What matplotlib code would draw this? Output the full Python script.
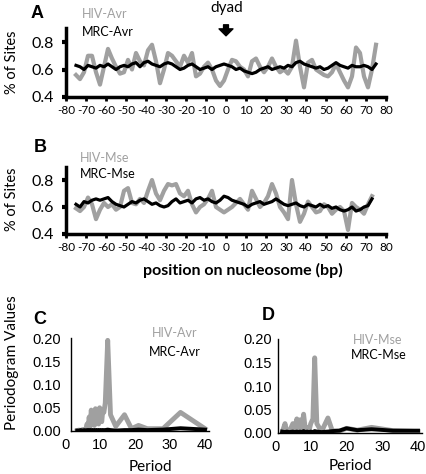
import matplotlib
matplotlib.use('Agg')
import matplotlib.pyplot as plt

# nucleosome position (bp)
pos = list(range(-75, 76, 2))
pos_mse = list(range(-75, 74, 2))

hiv_avr = [0.56, 0.53, 0.58, 0.70, 0.70, 0.58, 0.49, 0.62, 0.75, 0.68,
           0.62, 0.57, 0.58, 0.67, 0.60, 0.72, 0.66, 0.63, 0.74, 0.78,
           0.66, 0.50, 0.60, 0.72, 0.70, 0.66, 0.62, 0.70, 0.65, 0.72,
           0.55, 0.57, 0.62, 0.65, 0.60, 0.52, 0.48, 0.52, 0.60, 0.67,
           0.66, 0.62, 0.60, 0.55, 0.66, 0.68, 0.62, 0.58, 0.62, 0.68,
           0.62, 0.58, 0.60, 0.57, 0.62, 0.81, 0.62, 0.47, 0.65, 0.67,
           0.60, 0.58, 0.56, 0.55, 0.58, 0.64, 0.58, 0.52, 0.47, 0.55,
           0.76, 0.72, 0.55, 0.47, 0.60, 0.78]
mrc_avr = [0.63, 0.62, 0.60, 0.63, 0.62, 0.61, 0.63, 0.62, 0.64, 0.62,
           0.60, 0.62, 0.63, 0.62, 0.64, 0.65, 0.62, 0.65, 0.66, 0.64,
           0.63, 0.62, 0.64, 0.65, 0.64, 0.62, 0.60, 0.61, 0.63, 0.64,
           0.62, 0.60, 0.61, 0.62, 0.60, 0.62, 0.63, 0.64, 0.63, 0.62,
           0.60, 0.61, 0.59, 0.58, 0.57, 0.58, 0.60, 0.61, 0.62, 0.60,
           0.61, 0.62, 0.61, 0.63, 0.62, 0.65, 0.66, 0.64, 0.63, 0.62,
           0.61, 0.62, 0.60, 0.61, 0.63, 0.65, 0.63, 0.62, 0.61, 0.63,
           0.62, 0.62, 0.63, 0.62, 0.60, 0.64]
hiv_mse = [0.59, 0.57, 0.60, 0.67, 0.62, 0.51, 0.58, 0.63, 0.60, 0.62,
           0.58, 0.60, 0.72, 0.74, 0.63, 0.62, 0.66, 0.63, 0.72, 0.80,
           0.70, 0.65, 0.72, 0.77, 0.76, 0.77, 0.70, 0.68, 0.72, 0.62,
           0.56, 0.60, 0.62, 0.66, 0.72, 0.60, 0.58, 0.56, 0.58, 0.60,
           0.63, 0.66, 0.62, 0.58, 0.72, 0.66, 0.60, 0.63, 0.68, 0.77,
           0.70, 0.60, 0.56, 0.51, 0.80, 0.62, 0.49, 0.55, 0.64, 0.60,
           0.56, 0.57, 0.62, 0.60, 0.55, 0.58, 0.60, 0.57, 0.43, 0.63,
           0.60, 0.58, 0.55, 0.62, 0.68]
mrc_mse = [0.62, 0.60, 0.64, 0.63, 0.65, 0.66, 0.65, 0.66, 0.67, 0.64,
           0.62, 0.61, 0.60, 0.62, 0.64, 0.63, 0.65, 0.66, 0.64, 0.62,
           0.63, 0.61, 0.60, 0.61, 0.64, 0.66, 0.63, 0.64, 0.65, 0.63,
           0.66, 0.67, 0.65, 0.66, 0.64, 0.63, 0.65, 0.68, 0.67, 0.65,
           0.64, 0.63, 0.62, 0.60, 0.62, 0.63, 0.64, 0.62, 0.63, 0.64,
           0.66, 0.64, 0.62, 0.61, 0.62, 0.63, 0.61, 0.60, 0.62, 0.61,
           0.60, 0.62, 0.60, 0.61, 0.59, 0.60, 0.58, 0.57, 0.58, 0.60,
           0.57, 0.58, 0.60, 0.61, 0.66]

# periodograms
period_c = [3.5, 4, 4.5, 5, 5.5, 6, 6.3, 6.6, 6.9, 7.2, 7.5, 7.8, 8.1, 8.4, 8.7,
            9.0, 9.3, 9.6, 9.9, 10.2, 10.5, 10.8, 11.1, 11.5, 12.2, 13, 14.5,
            17, 19, 21, 23.5, 28, 33, 40]
pg_hiv_avr = [0.001, 0.002, 0.001, 0.003, 0.002, 0.004, 0.015, 0.005, 0.03, 0.01,
              0.045, 0.02, 0.035, 0.012, 0.048, 0.025, 0.04, 0.015, 0.05, 0.03,
              0.02, 0.045, 0.04, 0.06, 0.195, 0.035, 0.01, 0.035, 0.005, 0.012,
              0.005, 0.005, 0.04, 0.005]
pg_mrc_avr = [0.001, 0.001, 0.002, 0.001, 0.002, 0.001, 0.002, 0.001, 0.002, 0.001,
              0.002, 0.001, 0.002, 0.001, 0.002, 0.001, 0.002, 0.001, 0.002, 0.001,
              0.002, 0.001, 0.002, 0.002, 0.003, 0.002, 0.001, 0.002, 0.002, 0.003,
              0.002, 0.003, 0.006, 0.003]

period_d = [2, 2.8, 3.3, 4, 5, 5.5, 6.1, 6.6, 7, 7.5, 8, 8.5, 9, 9.5, 10,
            10.6, 11.1, 11.7, 13, 14.8, 16, 18, 20, 23, 27, 33, 40]
pg_hiv_mse = [0.001, 0.02, 0.002, 0.003, 0.02, 0.005, 0.03, 0.01, 0.028, 0.008,
              0.04, 0.005, 0.012, 0.005, 0.02, 0.03, 0.16, 0.02, 0.003, 0.032,
              0.005, 0.004, 0.01, 0.006, 0.012, 0.005, 0.003]
pg_mrc_mse = [0.003, 0.002, 0.003, 0.002, 0.003, 0.002, 0.003, 0.002, 0.003, 0.002,
              0.004, 0.002, 0.003, 0.002, 0.003, 0.002, 0.004, 0.003, 0.002, 0.003,
              0.004, 0.005, 0.01, 0.006, 0.008, 0.005, 0.005]

GRAY = '#a0a0a0'
W, H = 426, 474
plt.rcParams['font.family'] = ['Lato', 'DejaVu Sans']
plt.rcParams['axes.unicode_minus'] = False

fig = plt.figure(figsize=(W / 100, H / 100), dpi=100)


def px(x, y):
    return x / W, 1 - y / H


def nuc_panel(rect, x, hiv, mrc):
    ax = fig.add_axes(rect)
    ax.plot(x, hiv, color=GRAY, lw=3)
    ax.plot(x, mrc, color='black', lw=2.3)
    ax.set_xlim(-80, 80)
    ax.set_ylim(0.4, 0.9)
    ax.set_xticks(range(-80, 81, 10))
    ax.set_yticks([0.4, 0.6, 0.8])
    ax.set_yticklabels(['0.4', '0.6', '0.8'])
    for s in ['top', 'right']:
        ax.spines[s].set_visible(False)
    for s in ['left', 'bottom']:
        ax.spines[s].set_linewidth(2.5)
    ax.tick_params(axis='y', length=3, width=3, pad=6, labelsize=11.5)
    ax.tick_params(axis='x', length=3, width=2, pad=3, labelsize=8.5)
    return ax


axA = nuc_panel([66 / W, 1 - 97 / H, 320 / W, 68.75 / H], pos, hiv_avr, mrc_avr)
axB = nuc_panel([66 / W, 1 - 234 / H, 320 / W, 67.5 / H], pos_mse, hiv_mse, mrc_mse)

# dyad arrow
axA.annotate('', xy=(0, 0.845), xytext=(0, 0.925), annotation_clip=False,
             arrowprops=dict(facecolor='black', edgecolor='black', width=3.5,
                             headwidth=10, headlength=5, shrink=0))
fig.text(*px(227, 8), 'dyad', ha='center', va='center', fontsize=11)

fig.text(*px(82, 14), 'HIV-Avr', color=GRAY, ha='left', va='center', fontsize=9)
fig.text(*px(82, 32), 'MRC-Avr', color='black', ha='left', va='center', fontsize=9)
fig.text(*px(80, 158), 'HIV-Mse', color=GRAY, ha='left', va='center', fontsize=9)
fig.text(*px(80, 174), 'MRC-Mse', color='black', ha='left', va='center', fontsize=9)

fig.text(*px(12, 62), '% of Sites', rotation=90, ha='center', va='center', fontsize=10.5)
fig.text(*px(12, 199), '% of Sites', rotation=90, ha='center', va='center', fontsize=10.5)
fig.text(*px(243, 270), 'position on nucleosome (bp)', ha='center', va='center',
         fontsize=11.5, fontweight='bold')


def pg_panel(rect, x0, periods, hiv, mrc, ypad):
    ax = fig.add_axes(rect)
    ax.plot(periods, hiv, color=GRAY, lw=3.5)
    ax.plot(periods, mrc, color='black', lw=2.8)
    ax.set_xlim(0, 41)
    ax.set_ylim(0, 0.2)
    ax.set_xticks([0, 10, 20, 30, 40])
    ax.set_yticks([0, 0.05, 0.10, 0.15, 0.20])
    ax.set_yticklabels(['0.00', '0.05', '0.10', '0.15', '0.20'])
    for s in ['top', 'right']:
        ax.spines[s].set_visible(False)
    ax.spines['left'].set_position(('data', x0))
    ax.spines['bottom'].set_bounds(x0, 41)
    for s in ['left', 'bottom']:
        ax.spines[s].set_linewidth(1)
    for lab in ax.get_xticklabels() + ax.get_yticklabels():
        lab.set_family('Liberation Sans')
    ax.tick_params(axis='y', length=0, pad=ypad, labelsize=10.5)
    ax.tick_params(axis='x', length=0, pad=5, labelsize=10.5)
    return ax


axC = pg_panel([65 / W, 1 - 431 / H, 143.5 / W, 93 / H], 1.7, period_c, pg_hiv_avr, pg_mrc_avr, 7)
axD = pg_panel([275 / W, 1 - 433 / H, 146.6 / W, 94 / H], 0.8, period_d, pg_hiv_mse, pg_mrc_mse, 4)

fig.text(*px(175, 333), 'HIV-Avr', color=GRAY, ha='center', va='center', fontsize=9)
fig.text(*px(175, 352), 'MRC-Avr', color='black', ha='center', va='center', fontsize=9)
fig.text(*px(378, 340), 'HIV-Mse', color=GRAY, ha='center', va='center', fontsize=9)
fig.text(*px(379, 355), 'MRC-Mse', color='black', ha='center', va='center', fontsize=9)

fig.text(*px(12, 363), 'Periodogram Values', rotation=90, ha='center', va='center', fontsize=11)
fig.text(*px(150, 467), 'Period', ha='center', va='center', fontsize=11)
fig.text(*px(350, 466), 'Period', ha='center', va='center', fontsize=11)

for lab, (x, y) in zip('ABCD', [(37, 14), (40, 148), (40, 319), (268, 316)]):
    fig.text(*px(x, y), lab, ha='center', va='center', fontsize=13,
             fontweight='bold', family='Liberation Sans')

fig.savefig('out.png', dpi=100)
